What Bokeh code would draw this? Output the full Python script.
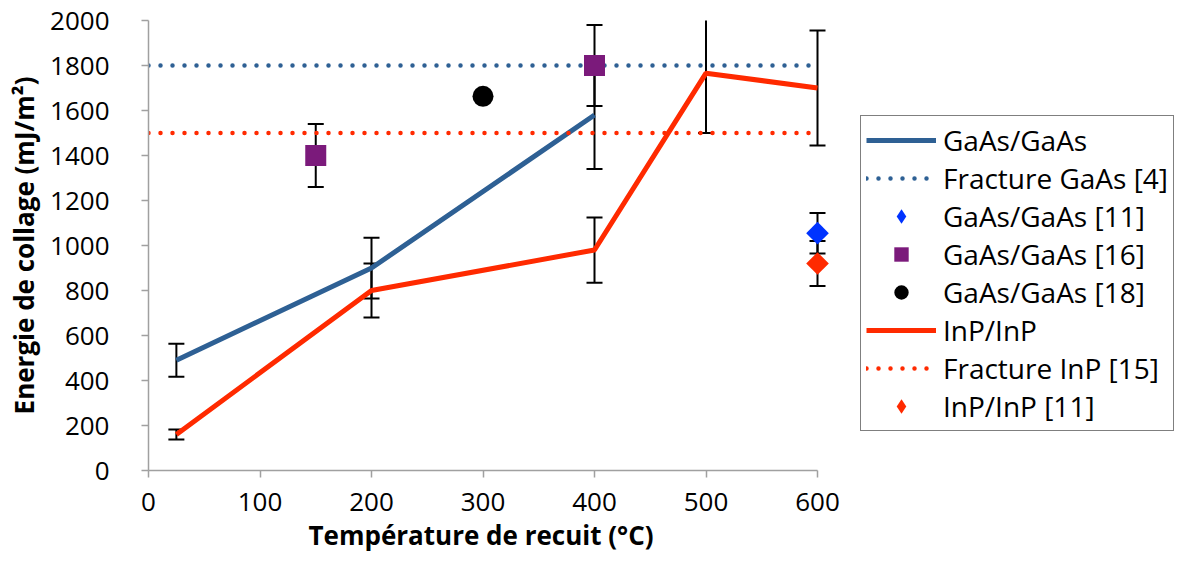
from bokeh.plotting import figure
from bokeh.models import ColumnDataSource, Whisker, TeeHead, Legend, LegendItem, Range1d, FixedTicker, Title
from bokeh.embed import file_html
from bokeh.resources import INLINE
import numpy as np

# ---- data ----
temp_gaas = [25, 200, 400]
e_gaas = [490, 900, 1580]
err_gaas = [73, 135, 240]

temp_inp = [25, 200, 400, 500, 600]
e_inp = [160, 800, 980, 1766, 1700]
err_inp = [22, 120, 145, 266, 256]

frac_x = [0, 600]
frac_gaas = [1800, 1800]
frac_inp = [1500, 1500]

temp_ref11_gaas = [600]
e_ref11_gaas = [1055]
err_ref11_gaas = [90]

temp_ref16 = [150, 400]
e_ref16 = [1400, 1800]
err_ref16 = [140, 180]

temp_ref18 = [300]
e_ref18 = [1663]

temp_ref11_inp = [600]
e_ref11_inp = [920]
err_ref11_inp = [100]

x_ticks = [0, 100, 200, 300, 400, 500, 600]
y_ticks = list(range(0, 2001, 200))

BLUE = "#2E6094"
RED = "#FF2A00"
FONT = "Open Sans"
AXC = "#A0A0A0"

W, H = 1182, 557
LEFT, TOP, BOTTOM = 148, 20, 87
DATA_W = 669            # pixels for 0..600 on the x axis
frame_w = W - LEFT
x_end = 600 * frame_w / DATA_W   # extra room on the right holds the legend

p = figure(width=W, height=H, output_backend="svg", toolbar_location=None,
           x_range=Range1d(0, x_end), y_range=Range1d(0, 2000),
           min_border_left=LEFT, min_border_right=0, min_border_top=TOP, min_border_bottom=BOTTOM)
p.outline_line_color = None
p.xgrid.visible = False
p.ygrid.visible = False

for ax in (p.xaxis[0], p.yaxis[0]):
    ax.axis_line_color = AXC
    ax.axis_line_width = 1.5
    ax.major_tick_line_color = AXC
    ax.major_tick_line_width = 1.5
    ax.major_tick_in = 0
    ax.major_tick_out = 7
    ax.minor_tick_line_color = None
    ax.major_label_text_font = FONT
    ax.major_label_text_font_size = "26px"
    ax.major_label_text_color = "black"
    ax.axis_label_text_font = FONT
    ax.axis_label_text_font_size = "26px"
    ax.axis_label_text_font_style = "bold"
    ax.axis_label_text_color = "black"

p.xaxis.bounds = (0, 600)
p.xaxis.ticker = FixedTicker(ticks=x_ticks)
p.yaxis.ticker = FixedTicker(ticks=y_ticks)
p.yaxis.axis_label = "Energie de collage (mJ/m²)"
p.xaxis.major_label_standoff = 15
p.yaxis.major_label_standoff = 32
p.yaxis.axis_label_standoff = 5

# x-axis title, centred under the 0..600 part of the axis
xtitle = Title(text="Température de recuit (°C)", align="left", offset=160, standoff=2,
               text_font=FONT, text_font_size="26px", text_font_style="bold", text_color="black")
p.add_layout(xtitle, "below")

# lines
r_gaas = p.line(temp_gaas, e_gaas, line_color=BLUE, line_width=5)
r_inp = p.line(temp_inp, e_inp, line_color=RED, line_width=5)
r_fg = p.line(frac_x, frac_gaas, line_color=BLUE, line_width=4.5, line_dash="0 12", line_cap="round")
r_fi = p.line(frac_x, frac_inp, line_color=RED, line_width=4.5, line_dash="0 12", line_cap="round")

# error bars
def add_err(xs, ys, es):
    ys = np.array(ys, dtype=float)
    es = np.array(es, dtype=float)
    src = ColumnDataSource(dict(x=xs, upper=ys + es, lower=ys - es))
    w = Whisker(source=src, base="x", upper="upper", lower="lower", dimension="height",
                line_color="black", line_width=2,
                upper_head=TeeHead(size=16, line_color="black", line_width=2),
                lower_head=TeeHead(size=16, line_color="black", line_width=2))
    p.add_layout(w)

add_err(temp_gaas, e_gaas, err_gaas)
add_err(temp_inp, e_inp, err_inp)
add_err(temp_ref16, e_ref16, err_ref16)
add_err(temp_ref11_gaas, e_ref11_gaas, err_ref11_gaas)
add_err(temp_ref11_inp, e_ref11_inp, err_ref11_inp)

# markers
r_sq = p.scatter(temp_ref16, e_ref16, marker="square", size=21, fill_color="#7B1A7B", line_color=None)
r_ci = p.scatter(temp_ref18, e_ref18, marker="circle", size=21, fill_color="black", line_color=None)
p.scatter(temp_ref11_gaas, e_ref11_gaas, marker="square", angle=np.pi / 4, size=16,
          fill_color="#0033FF", line_color=None)
p.scatter(temp_ref11_inp, e_ref11_inp, marker="square", angle=np.pi / 4, size=16,
          fill_color=RED, line_color=None)

# legend proxies for the diamonds (legend glyphs ignore marker angle); zero size in the plot
lg_d_g = p.scatter(temp_ref11_gaas, e_ref11_gaas, marker="diamond", size=0,
                   fill_color="#0033FF", line_color=None)
lg_d_i = p.scatter(temp_ref11_inp, e_ref11_inp, marker="diamond", size=0,
                   fill_color=RED, line_color=None)

legend = Legend(items=[
    LegendItem(label="GaAs/GaAs", renderers=[r_gaas]),
    LegendItem(label="Fracture GaAs [4]", renderers=[r_fg]),
    LegendItem(label="GaAs/GaAs [11]", renderers=[lg_d_g]),
    LegendItem(label="GaAs/GaAs [16]", renderers=[r_sq]),
    LegendItem(label="GaAs/GaAs [18]", renderers=[r_ci]),
    LegendItem(label="InP/InP", renderers=[r_inp]),
    LegendItem(label="Fracture InP [15]", renderers=[r_fi]),
    LegendItem(label="InP/InP [11]", renderers=[lg_d_i]),
], location=(712, 39))
legend.label_text_font = FONT
legend.label_text_font_size = "28px"
legend.label_text_line_height = 1.0
legend.label_text_color = "black"
legend.glyph_width = 70
legend.glyph_height = 36
legend.label_height = 36
legend.spacing = 0
legend.padding = 5
legend.label_standoff = 7
legend.border_line_color = "black"
legend.border_line_width = 1.5
legend.background_fill_alpha = 1.0
legend.margin = 0
p.add_layout(legend, "center")

open("out.html", "w").write(file_html(p, INLINE))
